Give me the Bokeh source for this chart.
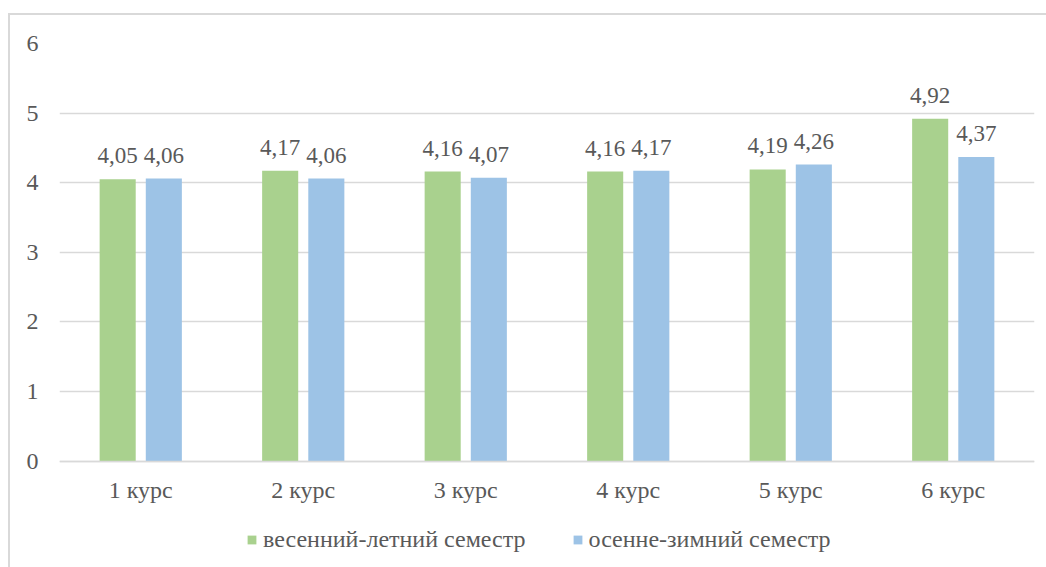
from bokeh.plotting import figure
from bokeh.models import (ColumnDataSource, FactorRange, Range1d, FixedTicker,
                          Legend, LegendItem, LabelSet)
from bokeh.transform import dodge
from bokeh.core.properties import value
from bokeh.embed import file_html
from bokeh.resources import INLINE

courses = ["1 курс", "2 курс", "3 курс", "4 курс", "5 курс", "6 курс"]
spring_summer = [4.05, 4.17, 4.16, 4.16, 4.19, 4.92]
autumn_winter = [4.06, 4.06, 4.07, 4.17, 4.26, 4.37]
series_names = ["весенний-летний семестр", "осенне-зимний семестр"]
y_ticks = [0, 1, 2, 3, 4, 5, 6]

def fmt(v):
    return f"{v:.2f}".replace(".", ",")

src = ColumnDataSource(dict(
    course=courses,
    s1=spring_summer,
    s2=autumn_winter,
    l1=[fmt(v) for v in spring_summer],
    l2=[fmt(v) for v in autumn_winter],
))

FNAME = "'Liberation Serif', 'Times New Roman', serif"
TXT = "#595959"
GRID = "#d9d9d9"
GREEN = "#A9D18E"
BLUE = "#9DC3E6"

# frame: top (y=6) at 43px, y=0 at 459px, frame bottom at 567px
px_per_unit = (459 - 43) / 6
y_start = -(567 - 459) / px_per_unit

p = figure(x_range=FactorRange(*courses), y_range=Range1d(y_start, 6),
           width=1038, height=554, output_backend="svg", toolbar_location=None,
           min_border_left=49, min_border_right=14, min_border_top=28,
           min_border_bottom=0)
p.margin = (13, 0, 0, 8)
p.styles = {"border-top": "2px solid #d9d9d9", "border-left": "2px solid #d9d9d9",
            "box-sizing": "border-box"}
p.outline_line_color = None
p.background_fill_color = "white"
p.border_fill_color = "white"

off = 0.142
w = 0.222
r1 = p.vbar(x=dodge("course", -off, range=p.x_range), top="s1", width=w,
            source=src, fill_color=GREEN, line_color=None)
r2 = p.vbar(x=dodge("course", off, range=p.x_range), top="s2", width=w,
            source=src, fill_color=BLUE, line_color=None)

for col, lab, o in (("s1", "l1", -off), ("s2", "l2", off)):
    p.add_layout(LabelSet(x=dodge("course", o, range=p.x_range), y=col, text=lab,
                          source=src, text_font=value(FNAME), text_font_size="23px",
                          text_color=TXT, text_align="center",
                          text_baseline="alphabetic", y_offset=16))

p.xgrid.grid_line_color = None
p.ygrid.grid_line_color = GRID
p.ygrid.grid_line_width = 1.5
p.yaxis.ticker = FixedTicker(ticks=y_ticks)
p.yaxis.axis_line_color = None
p.yaxis.major_tick_line_color = None
p.yaxis.minor_tick_line_color = None
p.yaxis.major_tick_out = 0
p.yaxis.major_tick_in = 0
p.yaxis.major_label_standoff = 21
p.yaxis.major_label_text_font = FNAME
p.yaxis.major_label_text_font_size = "24px"
p.yaxis.major_label_text_color = TXT

p.xaxis.fixed_location = 0
p.xaxis.axis_line_color = GRID
p.xaxis.axis_line_width = 1.5
p.xaxis.major_tick_line_color = None
p.xaxis.minor_tick_line_color = None
p.xaxis.major_tick_out = 0
p.xaxis.major_tick_in = 0
p.xaxis.major_label_standoff = 16
p.xaxis.major_label_text_font = FNAME
p.xaxis.major_label_text_font_size = "24px"
p.xaxis.major_label_text_color = TXT

legend = Legend(items=[LegendItem(label=series_names[0], renderers=[r1]),
                       LegendItem(label=series_names[1], renderers=[r2])],
                orientation="horizontal", location=(187, 16),
                label_text_font=FNAME, label_text_font_size="24px",
                label_text_color=TXT, glyph_width=11, glyph_height=11,
                spacing=46, label_standoff=6, border_line_color=None,
                background_fill_alpha=0, margin=0, padding=4)
p.add_layout(legend, "center")

open("out.html", "w").write(file_html(p, INLINE))
